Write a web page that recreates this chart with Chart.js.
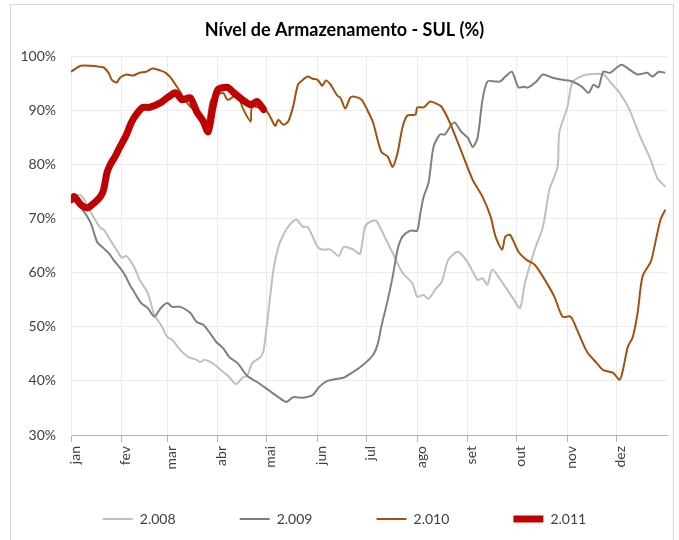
<!DOCTYPE html>
<html>
<head>
<meta charset="utf-8">
<script src="https://cdn.jsdelivr.net/npm/chart.js@4.4.0/dist/chart.umd.min.js"></script>
<style>
    html, body { margin: 0; padding: 0; background: #fff; }
    #wrap { width: 679px; height: 540px; }
</style>
</head>
<body>
<div id="wrap"><canvas id="nivelChart" width="679" height="540"></canvas></div>
<script>
// month ticks (day of year) and labels
const monthLabels = ['jan', 'fev', 'mar', 'abr', 'mai', 'jun', 'jul', 'ago', 'set', 'out', 'nov', 'dez'];
const monthStarts = [0, 31, 59, 90, 120, 151, 181, 212, 243, 273, 304, 334];
const yTicks = [30, 40, 50, 60, 70, 80, 90, 100];

// 2.008 - light gray
const days2008 = [0, 6, 13, 18, 20, 24, 29, 31, 34, 39, 42, 47, 51, 55, 59, 62, 67, 72, 77, 79, 82, 88, 93, 97, 101, 105, 108, 111, 116, 118, 121, 124, 127, 130, 134, 138, 142, 145, 151, 154, 159, 164, 167, 173, 177, 180, 183, 187, 192, 197, 203, 209, 212, 216, 219, 223, 227, 231, 237, 243, 249, 252, 255, 258, 263, 270, 275, 278, 284, 289, 293, 298, 299, 304, 307, 312, 316, 326, 330, 336, 342, 348, 355, 359, 364];
const vals2008 = [74.0, 74.4, 70.7, 68.3, 68.0, 66.1, 63.7, 62.8, 63.1, 60.9, 58.7, 56.3, 52.2, 50.4, 48.1, 47.6, 45.7, 44.4, 43.9, 43.5, 43.9, 43.0, 41.7, 40.7, 39.4, 40.6, 41.0, 43.3, 44.4, 45.7, 53.1, 60.6, 64.8, 67.0, 68.9, 69.8, 68.5, 68.5, 64.8, 64.3, 64.3, 63.1, 64.8, 64.3, 63.5, 68.5, 69.4, 69.6, 66.7, 63.7, 60.0, 58.1, 55.6, 55.9, 55.2, 56.9, 58.3, 62.4, 63.9, 61.9, 58.7, 59.0, 57.8, 60.6, 58.7, 55.6, 53.5, 58.1, 64.3, 68.5, 75.4, 79.6, 85.9, 90.7, 95.2, 96.3, 96.7, 96.7, 95.4, 93.3, 90.2, 85.6, 80.9, 77.6, 75.9];

// 2.009 - dark gray
const days2009 = [0, 7, 12, 16, 19, 23, 26, 30, 33, 36, 39, 43, 47, 51, 55, 59, 62, 67, 73, 77, 81, 85, 89, 93, 97, 102, 108, 114, 121, 127, 132, 136, 142, 148, 152, 157, 163, 167, 173, 179, 185, 188, 190, 194, 197, 200, 203, 208, 212, 214, 216, 219, 222, 226, 229, 233, 235, 239, 243, 246, 249, 252, 255, 260, 263, 266, 270, 274, 277, 280, 285, 289, 295, 301, 307, 313, 317, 320, 323, 326, 330, 337, 342, 347, 353, 356, 360, 364];
const vals2009 = [74.0, 71.7, 69.3, 65.7, 64.8, 63.7, 62.4, 60.9, 59.6, 57.8, 56.3, 54.4, 53.5, 51.9, 53.5, 54.4, 53.7, 53.7, 52.6, 50.9, 50.4, 48.9, 47.2, 46.1, 44.4, 43.3, 40.9, 39.8, 38.3, 37.0, 36.1, 37.0, 36.9, 37.4, 38.9, 40.0, 40.4, 40.6, 41.7, 43.0, 44.8, 47.0, 50.0, 55.0, 59.3, 64.3, 66.7, 67.8, 67.8, 71.1, 74.1, 76.7, 83.3, 85.6, 85.6, 87.4, 87.8, 86.1, 85.0, 83.3, 85.0, 92.0, 95.4, 95.4, 95.4, 96.3, 97.2, 94.3, 94.4, 94.3, 95.4, 96.7, 96.1, 95.7, 95.4, 94.4, 93.3, 94.8, 94.3, 97.2, 97.0, 98.5, 97.6, 96.7, 97.0, 96.3, 97.2, 97.0];

// 2.010 - brown
const days2010 = [0, 6, 12, 18, 20, 23, 25, 28, 30, 34, 38, 42, 46, 50, 55, 58, 61, 66, 72, 78, 83, 86, 93, 96, 102, 105, 110, 111, 120, 125, 127, 130, 133, 136, 139, 142, 145, 148, 151, 154, 156, 159, 163, 165, 168, 171, 173, 178, 182, 185, 190, 194, 197, 200, 203, 206, 211, 212, 216, 220, 225, 227, 232, 238, 246, 252, 257, 260, 264, 266, 269, 274, 279, 284, 289, 296, 301, 306, 310, 316, 322, 326, 332, 336, 338, 341, 344, 347, 350, 355, 356, 361, 364];
const vals2010 = [97.2, 98.3, 98.3, 98.1, 98.0, 97.0, 95.7, 95.2, 96.1, 96.7, 96.5, 97.0, 97.2, 97.8, 97.4, 97.0, 96.1, 93.9, 91.1, 89.3, 87.8, 92.0, 93.3, 92.0, 93.0, 90.6, 88.0, 90.7, 89.8, 87.2, 88.3, 87.4, 88.0, 90.7, 94.8, 95.7, 96.3, 95.9, 95.7, 94.6, 95.6, 94.8, 92.8, 92.4, 90.4, 92.4, 92.6, 92.0, 89.8, 87.8, 82.4, 81.5, 79.6, 82.2, 86.9, 89.1, 89.3, 90.6, 90.6, 91.7, 91.1, 90.7, 87.8, 83.3, 77.2, 74.1, 70.4, 66.7, 64.3, 66.7, 67.0, 63.9, 62.4, 61.5, 59.3, 55.6, 51.9, 51.9, 49.4, 45.4, 43.3, 42.0, 41.5, 40.2, 42.0, 46.3, 48.1, 52.6, 59.3, 62.0, 63.0, 69.8, 71.7];

// 2.011 - red
const days2011 = [0, 2, 6, 10, 13, 18, 20, 22, 24, 27, 30, 34, 37, 40, 44, 48, 55, 59, 64, 68, 73, 77, 81, 84, 87, 90, 96, 99, 105, 110, 114, 118];
const vals2011 = [73.5, 74.1, 72.6, 72.0, 72.6, 74.1, 75.4, 78.5, 80.0, 81.5, 83.3, 85.6, 87.8, 89.3, 90.6, 90.6, 91.5, 92.4, 93.3, 92.0, 92.4, 89.8, 88.0, 86.1, 90.7, 93.9, 94.3, 93.5, 92.0, 91.1, 91.7, 90.2];

function toPoints(days, vals) {
    return days.map((d, i) => ({ x: d, y: vals[i] }));
}

const fontFamily = 'Lato, "Open Sans", sans-serif';

// light frame around the chart
const framePlugin = {
    id: 'frame',
    beforeDraw(chart) {
        const ctx = chart.ctx;
        ctx.save();
        ctx.fillStyle = '#fff';
        ctx.fillRect(0, 0, chart.width, chart.height);
        ctx.strokeStyle = '#d9d9d9';
        ctx.lineWidth = 1;
        ctx.strokeRect(10.5, 4.5, 663, 600);
        ctx.restore();
    }
};

document.addEventListener('DOMContentLoaded', function() {
    const ctx = document.getElementById('nivelChart');

    new Chart(ctx, {
        type: 'line',
        data: {
            datasets: [{
                label: '2.008',
                data: toPoints(days2008, vals2008),
                borderColor: '#bfbfbf',
                backgroundColor: '#bfbfbf',
                borderWidth: 2,
                order: 3
            }, {
                label: '2.009',
                data: toPoints(days2009, vals2009),
                borderColor: '#7f7f7f',
                backgroundColor: '#7f7f7f',
                borderWidth: 2,
                order: 2
            }, {
                label: '2.010',
                data: toPoints(days2010, vals2010),
                borderColor: '#a0520e',
                backgroundColor: '#a0520e',
                borderWidth: 2,
                order: 1
            }, {
                label: '2.011',
                data: toPoints(days2011, vals2011),
                borderColor: '#c00000',
                backgroundColor: '#c00000',
                borderWidth: 7,
                borderCapStyle: 'round',
                borderJoinStyle: 'round',
                order: 0
            }]
        },
        options: {
            responsive: false,
            animation: false,
            layout: {
                padding: { left: 22, right: 12, top: 0, bottom: 4 }
            },
            elements: {
                point: { radius: 0 },
                line: { tension: 0.25 }
            },
            plugins: {
                title: {
                    display: true,
                    text: 'Nível de Armazenamento - SUL (%)',
                    color: '#000',
                    font: { family: fontFamily, size: 18, weight: 'bold', lineHeight: 1.2 },
                    padding: { top: 19, bottom: 16 }
                },
                legend: {
                    position: 'bottom',
                    labels: {
                        usePointStyle: true,
                        pointStyle: 'line',
                        pointStyleWidth: 30,
                        padding: 39,
                        color: '#404040',
                        font: { family: fontFamily, size: 14 },
                        sort: (a, b) => a.datasetIndex - b.datasetIndex,
                        // widen the gap between legend entries (all but the last year)
                        generateLabels: function(chart) {
                            const items = Chart.defaults.plugins.legend.labels.generateLabels(chart);
                            const last = chart.data.datasets.length - 1;
                            items.forEach(item => {
                                if (item.datasetIndex !== last) item.text = item.text + '       ';
                            });
                            return items;
                        }
                    }
                },
                tooltip: { enabled: false }
            },
            scales: {
                x: {
                    type: 'linear',
                    min: 0,
                    max: 365,
                    afterBuildTicks: function(scale) {
                        scale.ticks = monthStarts.map(v => ({ value: v }));
                    },
                    afterFit: function(scale) {
                        scale.height = 38;
                    },
                    ticks: {
                        autoSkip: false,
                        minRotation: 90,
                        maxRotation: 90,
                        padding: 4,
                        labelOffset: 4,
                        color: '#404040',
                        font: { family: fontFamily, size: 14 },
                        callback: function(value) {
                            const i = monthStarts.indexOf(value);
                            return i >= 0 ? monthLabels[i] : '';
                        }
                    },
                    grid: {
                        color: '#ebebeb',
                        tickColor: '#b3b3b3',
                        tickLength: 7
                    },
                    border: { color: '#b3b3b3' }
                },
                y: {
                    min: 30,
                    max: 100,
                    afterBuildTicks: function(scale) {
                        scale.ticks = yTicks.map(v => ({ value: v }));
                    },
                    afterFit: function(scale) {
                        scale.width = 49;
                    },
                    ticks: {
                        padding: 15,
                        color: '#404040',
                        font: { family: fontFamily, size: 14 },
                        callback: (val) => `${val}%`
                    },
                    grid: {
                        color: '#ebebeb',
                        drawTicks: false
                    },
                    border: { color: '#ebebeb' }
                }
            }
        },
        plugins: [framePlugin]
    });
});
</script>
</body>
</html>
